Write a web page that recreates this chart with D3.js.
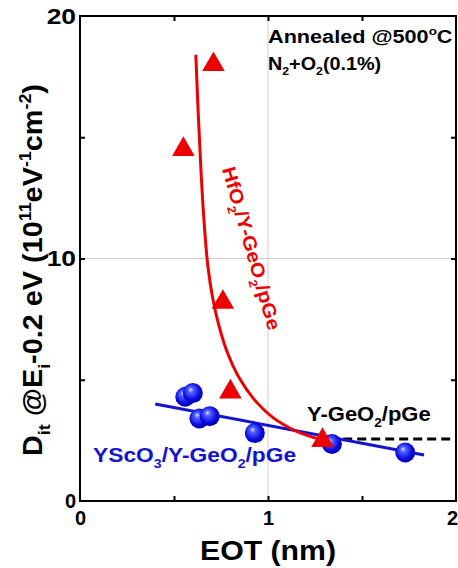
<!DOCTYPE html>
<html>
<head>
<meta charset="utf-8">
<script src="https://cdn.jsdelivr.net/npm/d3@7"></script>
<style>
  body { margin: 0; background: #fff; }
  svg { display: block; font-family: Arial, "Liberation Sans", sans-serif; font-weight: bold; }
</style>
</head>
<body>
<svg id="chart" width="458" height="568"></svg>
<script>
// HfO2/Y-GeO2/pGe : measured points (EOT nm, Dit 1e11 eV-1 cm-2)
const hfEOT = [0.55, 0.71, 0.76, 0.80, 1.29];
const hfDit = [14.5, 18.0, 8.2, 4.5, 2.5];
// guide curve through the HfO2 points
const hfFitEOT = [0.616, 0.630, 0.645, 0.662, 0.680, 0.705, 0.740, 0.785, 0.845, 0.925, 1.025, 1.150, 1.293];
const hfFitDit = [18.4, 15.8, 13.4, 11.3, 9.7, 8.4, 7.2, 6.1, 5.1, 4.2, 3.45, 2.88, 2.5];

// YScO3/Y-GeO2/pGe
const ysEOT = [0.56, 0.60, 0.635, 0.69, 0.93, 1.34, 1.73];
const ysDit = [4.3, 4.45, 3.4, 3.5, 2.8, 2.35, 2.0];
const ysFitEOT = [0.40, 1.83];
const ysFitDit = [4.0, 1.9];

// Y-GeO2/pGe reference level
const ygEOT = [1.40, 2.0];
const ygDit = [2.56, 2.56];

const xTicks = [0, 1, 2];
const yTicks = [0, 10, 20];
const xMinor = [0.5, 1, 1.5];
const yMinor = [5, 10, 15];

const m = { left: 80, right: 456, top: 16, bottom: 501 };
const x = d3.scaleLinear().domain([0, 2]).range([m.left, m.right]);
const y = d3.scaleLinear().domain([0, 20]).range([m.bottom, m.top]);

const svg = d3.select("#chart");
const RED = "#ec0000", BLUE = "#1414cc";
const FONT = "Arial, 'Liberation Sans', sans-serif";

// shaded ball
const g = svg.append("defs").append("radialGradient")
  .attr("id", "ball").attr("cx", "45%").attr("cy", "45%").attr("r", "60%")
  .attr("fx", "38%").attr("fy", "32%");
g.append("stop").attr("offset", "0%").attr("stop-color", "#dde4ff");
g.append("stop").attr("offset", "22%").attr("stop-color", "#5464ff");
g.append("stop").attr("offset", "70%").attr("stop-color", "#0808e0");
g.append("stop").attr("offset", "100%").attr("stop-color", "#00009a");

// grid
svg.append("line").attr("x1", x(1)).attr("x2", x(1)).attr("y1", y(0)).attr("y2", y(20))
  .attr("stroke", "#cfcfcf").attr("stroke-width", 1);
svg.append("line").attr("x1", x(0)).attr("x2", x(2)).attr("y1", y(10)).attr("y2", y(10))
  .attr("stroke", "#cfcfcf").attr("stroke-width", 1);

// inward minor ticks on all sides
function minor(axis, tr) {
  const a = svg.append("g").attr("transform", tr).call(axis);
  a.select(".domain").remove();
  a.selectAll("line").attr("stroke", "#000").attr("stroke-width", 2);
  a.selectAll("text").remove();
}
minor(d3.axisBottom(x).tickValues(xMinor).tickSize(-5), `translate(0,${m.bottom})`);
minor(d3.axisTop(x).tickValues(xMinor).tickSize(-5), `translate(0,${m.top})`);
minor(d3.axisLeft(y).tickValues(yMinor).tickSize(-5), `translate(${m.left},0)`);
minor(d3.axisRight(y).tickValues(yMinor).tickSize(-5), `translate(${m.right},0)`);

// tick labels
const ax = svg.append("g").attr("transform", `translate(0,${m.bottom})`)
  .call(d3.axisBottom(x).tickValues(xTicks).tickSize(0).tickPadding(10).tickFormat(d3.format("d")));
const ay = svg.append("g").attr("transform", `translate(${m.left},0)`)
  .call(d3.axisLeft(y).tickValues(yTicks).tickSize(0).tickPadding(4).tickFormat(d3.format("d")));
[ax, ay].forEach(a => {
  a.select(".domain").remove();
  a.selectAll("text").attr("fill", "#000").style("font-size", "20px")
    .style("font-family", FONT).style("font-weight", "bold");
});
// last x label sits right at the page edge
ax.selectAll(".tick").filter(d => d === 2).select("text").attr("x", -4);
// the 10 and 20 labels are drawn larger and wider in the original
ay.selectAll(".tick").filter(d => d > 0).select("text")
  .style("font-size", "22px").attr("x", 0).attr("transform", "translate(-4,0) scale(1.2,1)");

// frame
svg.append("rect").attr("x", m.left).attr("y", m.top)
  .attr("width", m.right - m.left).attr("height", m.bottom - m.top)
  .attr("fill", "none").attr("stroke", "#000").attr("stroke-width", 2);

// Y-GeO2 dashed level
svg.append("path")
  .attr("d", d3.line().x(d => x(d[0])).y(d => y(d[1]))(d3.zip(ygEOT, ygDit)))
  .attr("stroke", "#000").attr("stroke-width", 3).attr("stroke-dasharray", "9,5").attr("fill", "none");

// YScO3 fit line and balls
svg.append("path")
  .attr("d", d3.line().x(d => x(d[0])).y(d => y(d[1]))(d3.zip(ysFitEOT, ysFitDit)))
  .attr("stroke", BLUE).attr("stroke-width", 3).attr("fill", "none");
svg.selectAll(".ball").data(d3.zip(ysEOT, ysDit)).join("circle")
  .attr("cx", d => x(d[0])).attr("cy", d => y(d[1])).attr("r", 10)
  .attr("fill", "url(#ball)");

// HfO2 curve and triangles
svg.append("path")
  .attr("d", d3.line().curve(d3.curveCatmullRom.alpha(0.5))
    .x(d => x(d[0])).y(d => y(d[1]))(d3.zip(hfFitEOT, hfFitDit)))
  .attr("stroke", RED).attr("stroke-width", 3).attr("fill", "none");
svg.selectAll(".tri").data(d3.zip(hfEOT, hfDit)).join("path")
  .attr("d", d3.symbol(d3.symbolTriangle, 220))
  .attr("transform", d => `translate(${x(d[0])},${y(d[1])})`)
  .attr("fill", RED);

// rich text helper: parts = [[text, "sub"|"sup"|null], ...]
function rich(px, py, rot, sx, size, color, parts, anchor) {
  const t = svg.append("text")
    .attr("transform", `translate(${px},${py}) rotate(${rot}) scale(${sx},1)`)
    .attr("text-anchor", anchor || "start")
    .attr("fill", color).style("font-size", size + "px");
  let shift = 0;
  parts.forEach(([s, k]) => {
    const target = k === "sub" ? size * 0.3 : k === "sup" ? -size * 0.4 : 0;
    t.append("tspan")
      .attr("dy", target - shift)
      .style("font-size", k ? (size * 0.62) + "px" : size + "px")
      .text(s);
    shift = target;
  });
  return t;
}

rich(268, 43, 0, 1.14, 19, "#000", [["Annealed @500", null], ["o", "sup"], ["C", null]]);
rich(268, 70, 0, 1.1, 18, "#000", [["N", null], ["2", "sub"], ["+O", null], ["2", "sub"], ["(0.1%)", null]]);

rich(222, 169, 74, 1.1, 19, RED, [["HfO", null], ["2", "sub"], ["/Y-GeO", null], ["2", "sub"], ["/pGe", null]]);
rich(307, 421, 0, 1.1, 20, "#000", [["Y-GeO", null], ["2", "sub"], ["/pGe", null]]);
rich(93, 462, 0, 1.14, 20, BLUE, [["YScO", null], ["3", "sub"], ["/Y-GeO", null], ["2", "sub"], ["/pGe", null]]);

// axis titles
rich(268, 560, 0, 1.08, 28, "#000", [["EOT (nm)", null]], "middle");
rich(42, 270, -90, 1.03, 28, "#000", [
  ["D", null], ["it", "sub"], [" @E", null], ["i", "sub"], ["-0.2 eV (10", null],
  ["11", "sup"], ["eV", null], ["-1", "sup"], ["cm", null], ["-2", "sup"], [")", null]
], "middle");
</script>
</body>
</html>
